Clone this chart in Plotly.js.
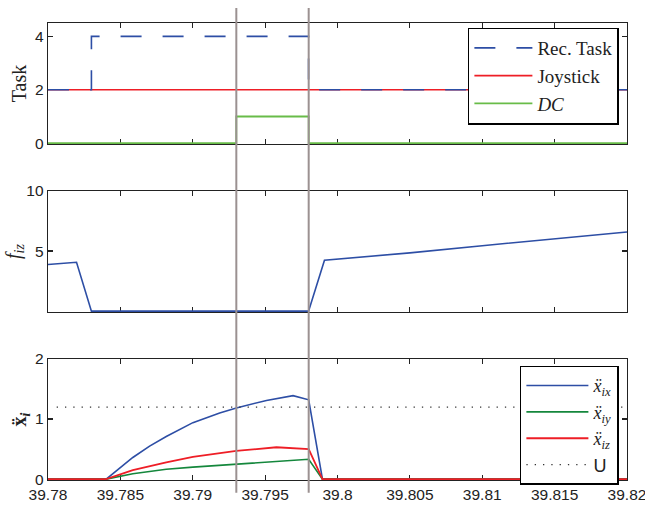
<!DOCTYPE html>
<html><head><meta charset="utf-8">
<script src="https://cdn.plot.ly/plotly-3.0.1.min.js"></script>
<style>body{margin:0;background:#fff}#chart{width:645px;height:506px}</style>
</head><body><div id="chart"></div>
<script>
// ---- data ----
const xTickVals = [39.78, 39.785, 39.79, 39.795, 39.8, 39.805, 39.81, 39.815, 39.82];
const xTickText = ["39.78", "39.785", "39.79", "39.795", "39.8", "39.805", "39.81", "39.815", "39.82"];
const markerLines = [39.79301, 39.79801];

// panel 1 (step signals)
const recTaskX = [39.78, 39.783, 39.798, 39.82];
const recTaskY = [2, 4, 2, 2];
const joyX = [39.78, 39.82];
const joyY = [2, 2];
const dcX = [39.78, 39.79301, 39.79801, 39.82];
const dcY = [0, 1, 0, 0];

// panel 2 (f_iz)
const fizX = [39.78, 39.78197, 39.783, 39.798, 39.7991, 39.805, 39.81, 39.815, 39.82];
const fizY = [3.88, 4.07, 0, 0, 4.24, 4.85, 5.45, 6.03, 6.59];

// panel 3 (accelerations)
const axX = [39.78, 39.78402, 39.78586, 39.78702, 39.78817, 39.79001, 39.79186, 39.79301, 39.79509, 39.79693, 39.79801, 39.79896, 39.82];
const axY = [0, 0, 0.36, 0.55, 0.71, 0.94, 1.10, 1.185, 1.31, 1.39, 1.32, 0, 0];
const ayX = [39.78, 39.78402, 39.78586, 39.78817, 39.79001, 39.79301, 39.79578, 39.79801, 39.79896, 39.82];
const ayY = [0, 0, 0.09, 0.165, 0.20, 0.25, 0.30, 0.33, 0, 0];
const azX = [39.78, 39.78402, 39.78586, 39.78817, 39.79001, 39.79301, 39.79578, 39.79801, 39.79896, 39.82];
const azY = [0, 0, 0.15, 0.28, 0.37, 0.47, 0.53, 0.50, 0, 0];
const uX = [39.7806, 39.82];
const uY = [1.2, 1.2];

// ---- styles ----
const BLUE = 'rgb(45,78,165)';
const RED = 'rgb(238,30,38)';
const LGREEN = 'rgb(104,188,72)';
const DGREEN = 'rgb(20,135,60)';
const AX = '#222';
const SERIF = 'Liberation Serif, Times New Roman, serif';
const SANS = 'Liberation Sans, Arial, sans-serif';

const traces = [
  {x: joyX, y: joyY, name: 'Joystick', mode: 'lines', line: {color: RED, width: 1.6}, xaxis: 'x', yaxis: 'y', legend: 'legend', legendrank: 2},
  {x: recTaskX, y: recTaskY, name: 'Rec. Task', mode: 'lines', line: {color: BLUE, width: 1.6, dash: '21px,21px', shape: 'hv'}, xaxis: 'x', yaxis: 'y', legend: 'legend', legendrank: 1},
  {x: dcX, y: dcY, name: '<i>DC</i>', mode: 'lines', line: {color: LGREEN, width: 1.8, shape: 'hv'}, xaxis: 'x', yaxis: 'y', legend: 'legend', legendrank: 3},
  {x: fizX, y: fizY, name: 'fiz', mode: 'lines', line: {color: BLUE, width: 1.6}, xaxis: 'x2', yaxis: 'y2', showlegend: false},
  {x: axX, y: axY, name: '<i>ẍ</i><sub><i>ix</i></sub>', mode: 'lines', line: {color: BLUE, width: 1.6}, xaxis: 'x3', yaxis: 'y3', legend: 'legend2', legendrank: 1},
  {x: ayX, y: ayY, name: '<i>ẍ</i><sub><i>iy</i></sub>', mode: 'lines', line: {color: DGREEN, width: 1.6}, xaxis: 'x3', yaxis: 'y3', legend: 'legend2', legendrank: 2},
  {x: azX, y: azY, name: '<i>ẍ</i><sub><i>iz</i></sub>', mode: 'lines', line: {color: RED, width: 1.8}, xaxis: 'x3', yaxis: 'y3', legend: 'legend2', legendrank: 3},
  {x: uX, y: uY, name: '<span style="font-family:Liberation Sans">U</span>', mode: 'lines', line: {color: '#333', width: 1.3, dash: '1.3px,7px'}, xaxis: 'x3', yaxis: 'y3', legend: 'legend2', legendrank: 4}
];

function xa(anchor, labels) {
  const o = {anchor: anchor, range: [39.78, 39.82], showline: true, linecolor: AX, linewidth: 1.3, mirror: 'ticks',
    ticks: 'inside', ticklen: 5, tickcolor: AX, tickwidth: 1.2, tickvals: xTickVals, ticktext: xTickText,
    showticklabels: labels, showgrid: false, zeroline: false, fixedrange: true, layer: 'below traces',
    ticklabeloverflow: 'allow', tickfont: {family: SANS, size: 15.5, color: AX}};
  if (anchor !== 'y') o.matches = 'x';
  return o;
}
function ya(anchor, domain, range, tv, title, standoff) {
  return {anchor: anchor, domain: domain, range: range, tickvals: tv, showline: true, linecolor: AX, linewidth: 1.3,
    mirror: 'ticks', ticks: 'inside', ticklen: 5, tickcolor: AX, tickwidth: 1.2, showgrid: false, zeroline: false,
    layer: 'below traces', tickfont: {family: SANS, size: 15.5, color: AX},
    title: {text: title, standoff: standoff, font: {family: SERIF, size: 20, color: AX}}};
}

const layout = {
  width: 645, height: 506,
  margin: {l: 48, r: 18, t: 23, b: 26},
  paper_bgcolor: '#fff', plot_bgcolor: '#fff',
  xaxis: xa('y', false),
  xaxis2: xa('y2', false),
  xaxis3: xa('y3', true),
  yaxis: ya('x', [0.7352, 1], [-0.03, 4.5], [0, 2, 4], 'Task', 3),
  yaxis2: ya('x2', [0.3676, 0.6324], [-0.07, 10], [5, 10], '<i>f</i><sub><i>iz</i></sub>', 0),
  yaxis3: ya('x3', [0, 0.2648], [-0.015, 2], [0, 1, 2], '<b>ẍ</b><sub><b><i>i</i></b></sub>', 3),
  legend: {x: 0.986, xanchor: 'right', y: 0.99, yanchor: 'top', bordercolor: '#000', borderwidth: 1.5, bgcolor: '#fff',
    font: {family: SERIF, size: 19, color: AX}, tracegroupgap: 0, itemwidth: 58},
  legend2: {x: 0.986, xanchor: 'right', y: 0.25, yanchor: 'top', bordercolor: '#000', borderwidth: 1.5, bgcolor: '#fff',
    font: {family: SERIF, size: 18, color: AX}, tracegroupgap: 0, itemwidth: 62},
  shapes: markerLines.map(v => ({type: 'line', xref: 'x', yref: 'paper', x0: v, x1: v, y0: -0.028, y1: 1.033,
    line: {color: 'rgb(155,145,145)', width: 2}, layer: 'above'})),
  showlegend: true
};

Plotly.newPlot('chart', traces, layout, {staticPlot: true, displayModeBar: false});
</script></body></html>
